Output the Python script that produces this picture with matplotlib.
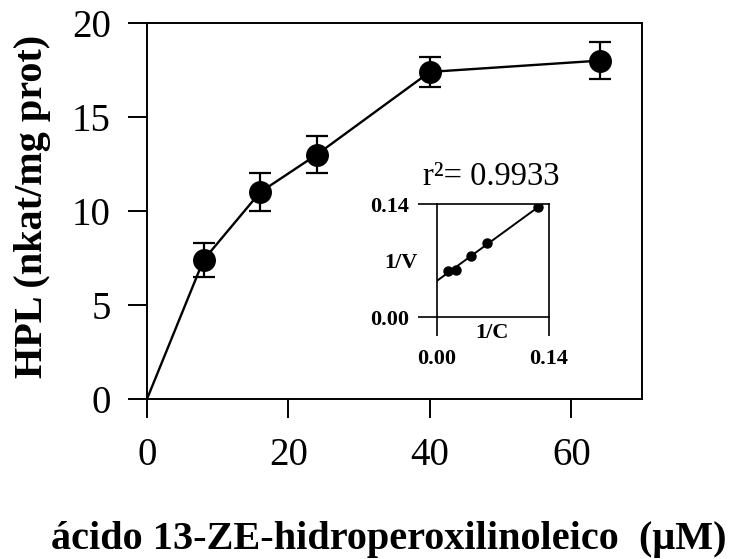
import numpy as np
import matplotlib
matplotlib.use('Agg')
import matplotlib.pyplot as plt

plt.rcParams['font.family'] = ['Liberation Serif', 'DejaVu Serif']

# main curve: concentration (uM) vs HPL activity
conc = [0, 8, 16, 24, 40, 64]
hpl = [0, 7.4, 11.0, 13.0, 17.4, 18.0]
hpl_err = [0, 0.9, 1.0, 1.0, 0.8, 1.0]

# inset: Lineweaver-Burk
inv_c = [0.0133, 0.024, 0.0422, 0.0621, 0.1263]
inv_v = [0.0573, 0.058, 0.0756, 0.0914, 0.1358]
r2_text = 'r\u00b2= 0.9933'

main_xticks = [0, 20, 40, 60]
main_yticks = [0, 5, 10, 15, 20]
inset_ticks = [0.00, 0.14]

fig = plt.figure(figsize=(7.35, 5.59), dpi=100)
ax = fig.add_axes([0.2, 0.2862, 0.6735, 0.6726])

ax.plot(conc, hpl, color='black', lw=1.7, zorder=2)
ax.errorbar(conc[1:], hpl[1:], yerr=hpl_err[1:], fmt='o', color='black',
            ms=15.5, capsize=8, elinewidth=1.6, capthick=1.6, zorder=3)

ax.set_xlim(0, 70)
ax.set_ylim(0, 20)
ax.set_xticks(main_xticks)
ax.set_yticks(main_yticks)
ax.tick_params(direction='out', length=14, width=1.4, labelsize=28)
ax.tick_params(axis='x', pad=13)
ax.tick_params(axis='y', pad=12)
for s in ax.spines.values():
    s.set_linewidth(1.4)

fig.text(0.044, 0.63, 'HPL (nkat/mg prot)', rotation=90, ha='center', va='center',
         fontsize=29, fontweight='bold')
fig.text(0.529, 0.034, '\u00e1cido 13-ZE-hidroperoxilinoleico  (\u03bcM)', ha='center',
         va='center', fontsize=29, fontweight='bold')

# inset
axi = fig.add_axes([0.5946, 0.4329, 0.1524, 0.2021])
axi.plot(inv_c, inv_v, 'o', color='black', ms=6.5, zorder=3)
slope, icpt = np.polyfit(inv_c, inv_v, 1)
xx = np.array([0, inv_c[-1] + 0.003])
axi.plot(xx, icpt + slope * xx, color='black', lw=1.4)
axi.set_xlim(0, 0.14)
axi.set_ylim(0, 0.14)
axi.set_xticks(inset_ticks)
axi.set_yticks(inset_ticks)
axi.set_xticklabels(['0.00', '0.14'])
axi.set_yticklabels(['0.00', '0.14'])
axi.tick_params(direction='out', length=14, width=1.2, labelsize=16)
axi.tick_params(axis='x', pad=9)
axi.tick_params(axis='y', pad=6)
for lab in axi.get_xticklabels() + axi.get_yticklabels():
    lab.set_fontweight('bold')
for s in axi.spines.values():
    s.set_linewidth(1.2)
axi.text(-0.32, 0.48, '1/V', transform=axi.transAxes, ha='center', va='center',
         fontsize=16, fontweight='bold')
axi.text(0.49, -0.14, '1/C', transform=axi.transAxes, ha='center', va='center',
         fontsize=16, fontweight='bold')
axi.text(0.48, 1.24, r2_text, transform=axi.transAxes, ha='center', va='center',
         fontsize=23.5)

fig.savefig('out.png', dpi=100)
